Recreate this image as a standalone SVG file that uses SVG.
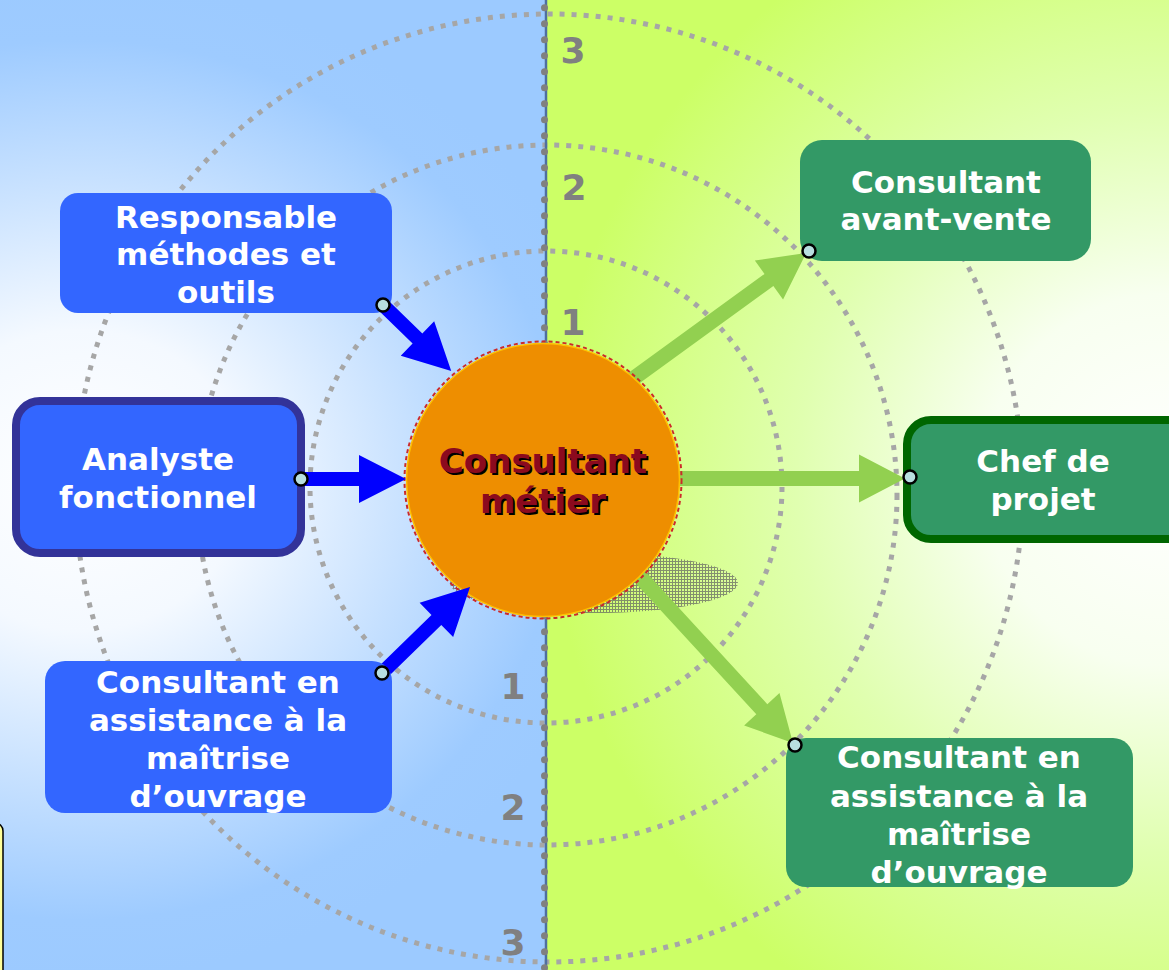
<svg xmlns="http://www.w3.org/2000/svg" width="1169" height="970" viewBox="0 0 1169 970">
<defs>
<radialGradient id="bgL" gradientUnits="userSpaceOnUse" cx="80" cy="480" r="500" gradientTransform="translate(80,480) scale(1.1,1) translate(-80,-480)">
<stop offset="0" stop-color="#ffffff"/><stop offset="0.3" stop-color="#f4f9ff"/><stop offset="0.88" stop-color="#9ecbff"/><stop offset="1" stop-color="#9ccaff"/>
</radialGradient>
<radialGradient id="bgR" gradientUnits="userSpaceOnUse" cx="1169" cy="480" r="620">
<stop offset="0" stop-color="#ffffff"/><stop offset="0.3" stop-color="#f8fff0"/><stop offset="0.6" stop-color="#e0ffb0"/><stop offset="1" stop-color="#ccff66"/>
</radialGradient>
<pattern id="hatch" width="3" height="3" patternUnits="userSpaceOnUse">
<path d="M0,0.5H3M0.5,0V3" stroke="#606060" stroke-width="1"/>
</pattern>
<style>
.ring{fill:none;stroke:#a6a6a6;stroke-width:5;stroke-dasharray:5 7}
.lbl{font-family:"DejaVu Sans",Verdana,sans-serif;font-weight:bold;font-size:31px;fill:#ffffff;text-anchor:middle}
.num{font-family:"DejaVu Sans",Verdana,sans-serif;font-weight:bold;font-size:36px;fill:#808080;text-anchor:middle}
.ctr{font-family:"DejaVu Sans",Verdana,sans-serif;font-weight:bold;font-size:34px;text-anchor:middle}
.blue{fill:#3366ff}
.green{fill:#339966}
.barrow{fill:#0000ff}
.garrow{fill:#92d050}
.dot{fill:#b8dfe0;stroke:#000000;stroke-width:2.5}
</style>
</defs>
<g id="background">
<rect x="0" y="0" width="546" height="970" fill="url(#bgL)"/>
<rect x="546" y="0" width="623" height="970" fill="url(#bgR)"/>
<rect x="-50" y="823" width="53" height="200" rx="8" fill="#ffff99" stroke="#000000" stroke-width="1.5"/>
</g>
<g id="rings">
<circle class="ring" cx="546" cy="487" r="236"/>
<circle class="ring" cx="547" cy="495" r="350"/>
<circle class="ring" cx="549" cy="488" r="474"/>
</g>
<g id="axis">
<line x1="546" y1="0" x2="546" y2="970" stroke="#4f6fa0" stroke-width="2.5"/>
<line x1="544.5" y1="7.7" x2="544.5" y2="970" stroke="#808080" stroke-width="7" stroke-linecap="round" stroke-dasharray="0 16"/>
</g>
<g id="shadow">
<ellipse cx="594" cy="583" rx="144" ry="30" fill="url(#hatch)" opacity="0.7"/>
</g>
<g id="connectors">
<path class="garrow" transform="translate(612,394) rotate(-36)" d="M0,-7.5H194V-24L240,0L194,24V7.5H0Z"/>
<path class="garrow" transform="translate(660,478.5)" d="M0,-7.5H199V-24L245,0L199,24V7.5H0Z"/>
<path class="garrow" transform="translate(630.5,566.4) rotate(47.4)" d="M0,-7.5H194V-24L240,0L194,24V7.5H0Z"/>
</g>
<g id="node-center">
<circle cx="543" cy="480" r="138.5" fill="none" stroke="#cc2a2a" stroke-width="2" stroke-dasharray="4 3"/>
<circle cx="543" cy="480" r="136.5" fill="#ee8e00" stroke="#ffc000" stroke-width="1.5"/>
<text class="ctr" x="545" y="475" fill="#000000">Consultant</text>
<text class="ctr" x="545" y="515" fill="#000000">métier</text>
<text class="ctr" x="543" y="473" fill="#8b0a1e">Consultant</text>
<text class="ctr" x="543" y="513" fill="#8b0a1e">métier</text>
</g>
<g id="connectors-in">
<path class="barrow" transform="translate(383,305) rotate(44.1)" d="M0,-7H48V-24L95,0L48,24V7H0Z"/>
<path class="barrow" transform="translate(301,479)" d="M0,-7H58V-24L105,0L58,24V7H0Z"/>
<path class="barrow" transform="translate(382,673) rotate(-44.3)" d="M0,-7H76V-24L123,0L76,24V7H0Z"/>
</g>
<g id="node-responsable">
<rect class="blue" x="60" y="193" width="332" height="120" rx="18"/>
<text class="lbl" x="226" y="228">Responsable</text>
<text class="lbl" x="226" y="265">méthodes et</text>
<text class="lbl" x="226" y="303">outils</text>
</g>
<g id="node-analyste">
<rect class="blue" x="16" y="401" width="285" height="152" rx="24" stroke="#333399" stroke-width="8"/>
<text class="lbl" x="158" y="470">Analyste</text>
<text class="lbl" x="158" y="508">fonctionnel</text>
</g>
<g id="node-amoa-left">
<rect class="blue" x="45" y="661" width="347" height="152" rx="20"/>
<text class="lbl" x="218" y="693">Consultant en</text>
<text class="lbl" x="218" y="731">assistance à la</text>
<text class="lbl" x="218" y="769">maîtrise</text>
<text class="lbl" x="218" y="807">d’ouvrage</text>
</g>
<g id="node-avant-vente">
<rect class="green" x="800" y="140" width="291" height="121" rx="22"/>
<text class="lbl" x="946" y="193">Consultant</text>
<text class="lbl" x="946" y="230">avant-vente</text>
</g>
<g id="node-chef">
<rect class="green" x="907" y="420" width="290" height="119" rx="24" stroke="#006600" stroke-width="8"/>
<text class="lbl" x="1043" y="472">Chef de</text>
<text class="lbl" x="1043" y="510">projet</text>
</g>
<g id="node-amoa-right">
<rect class="green" x="786" y="738" width="347" height="149" rx="20"/>
<text class="lbl" x="959" y="768">Consultant en</text>
<text class="lbl" x="959" y="807">assistance à la</text>
<text class="lbl" x="959" y="845">maîtrise</text>
<text class="lbl" x="959" y="883">d’ouvrage</text>
</g>
<g id="ports">
<circle class="dot" cx="383" cy="305" r="6.5"/>
<circle class="dot" cx="301" cy="479" r="6.5"/>
<circle class="dot" cx="382" cy="673" r="6.5"/>
<circle class="dot" cx="809" cy="251" r="6.5"/>
<circle class="dot" cx="910" cy="477" r="6.5"/>
<circle class="dot" cx="795" cy="745" r="6.5"/>
</g>
<g id="numbers">
<text class="num" x="573" y="63">3</text>
<text class="num" x="574" y="200">2</text>
<text class="num" x="573" y="335">1</text>
<text class="num" x="513" y="699">1</text>
<text class="num" x="513" y="820">2</text>
<text class="num" x="513" y="955">3</text>
</g>
</svg>
